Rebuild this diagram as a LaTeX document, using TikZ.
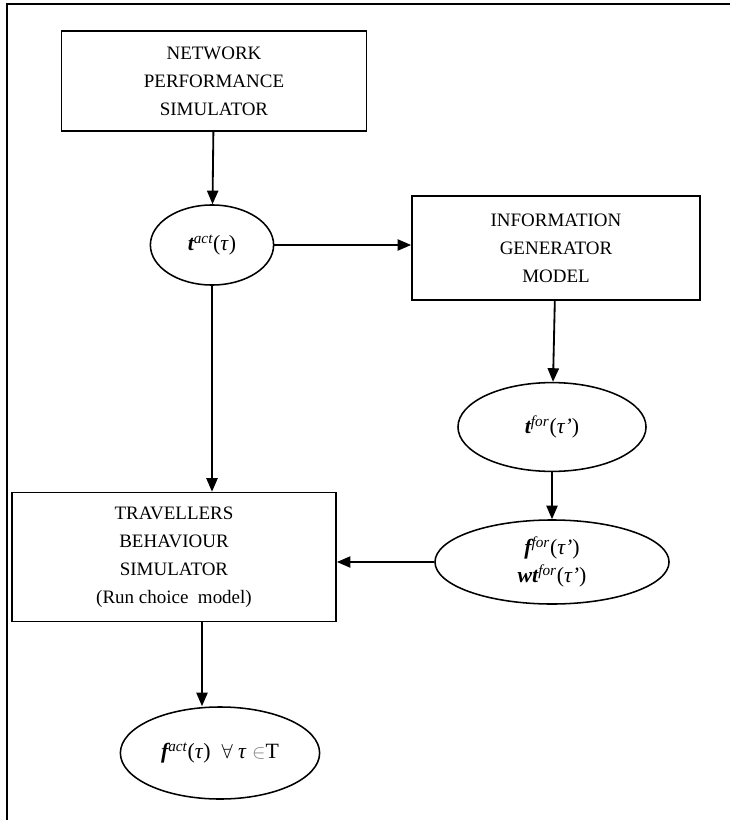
\documentclass[tikz,border=0pt]{standalone}
\usepackage{fontspec}
\setmainfont{Liberation Serif}
\usetikzlibrary{shapes,arrows.meta,calc}
\tikzstyle{line} = [draw, line width=1.3pt, -{Triangle[length=3.4mm,width=2.8mm]}]
\tikzstyle{block} = [draw, rectangle, line width=1.2pt, text centered, align=center, inner sep=0pt, font=\fontsize{13.5}{19.9}\selectfont]
\tikzstyle{cloud} = [draw, ellipse, line width=1.1pt, text centered, align=center, inner sep=0pt, font=\fontsize{15.5}{20}\selectfont]
\newcommand{\bvar}[2]{{\bfseries\itshape #1}\textsuperscript{\itshape #2}}

\begin{document}
\begin{tikzpicture}[x=0.025cm, y=-0.025cm]
    \useasboundingbox (0,0) rectangle (730,820);
    % frame
    \draw[line width=1.3pt] (7,820) -- (7,4) -- (730,4);

    \node[block, minimum width=7.62cm, minimum height=2.5cm] (nps) at (214,81) {NETWORK\\PERFORMANCE\\SIMULATOR};
    \node[cloud, minimum width=3.08cm, minimum height=2cm] (tact) at (212,245) {\bvar{t}{act}(\textit{τ})};
    \node[block, minimum width=7.2cm, minimum height=2.6cm] (igm) at (556,248) {INFORMATION\\GENERATOR\\MODEL};
    \node[cloud, minimum width=4.7cm, minimum height=2.22cm] (tfor) at (552,427) {\bvar{t}{for}(\textit{τ’})};
    \node[cloud, minimum width=5.85cm, minimum height=2.1cm] (ffor) at (552,562) {\bvar{f}{for}(\textit{τ’})\\\bvar{wt}{for}(\textit{τ’})};
    \node[block, minimum width=8.1cm, minimum height=3.22cm] (tbs) at (174,557) {TRAVELLERS\\BEHAVIOUR\\SIMULATOR\\(Run choice~ model)};
    \node[cloud, minimum width=4.98cm, minimum height=2.3cm] (fact) at (220,753) {\bvar{f}{act}(\textit{τ})\ \ $\forall$\ \textit{τ}\ {\color{gray}$\in$}T};
    \coordinate (tbsout) at ($(tbs.south)+(28,0)$);

    \path[line] (nps) -- (tact);
    \path[line] (tact.east) -- (tact.east -| igm.west);
    \path[line] (tact) -- (tact |- tbs.north);
    \path[line] (igm) -- (tfor);
    \path[line] (tfor) -- (ffor);
    \path[line] (ffor.west) -- (ffor.west -| tbs.east);
    \path[line] (tbsout) -- (tbsout |- fact.north);
\end{tikzpicture}
\end{document}
